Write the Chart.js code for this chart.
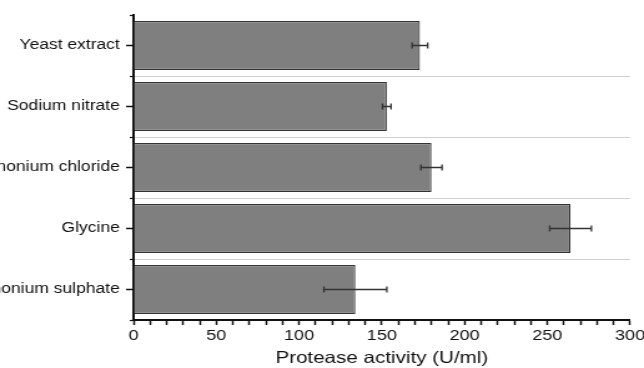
<!DOCTYPE html>
<html>
<head>
<meta charset="utf-8">
<script src="https://cdn.jsdelivr.net/npm/chart.js@4.4.1/dist/chart.umd.min.js"></script>
<style>
  html, body { margin: 0; padding: 0; background: #fff; overflow: hidden; }
  /* kanvas digambar sempit lalu direntang ke samping */
  #wrap { width: 519px; height: 368px; transform: scaleX(1.248); transform-origin: 0 0; }
</style>
</head>
<body>
<div id="wrap"><canvas id="chart"></canvas></div>
<script>
// Sumber nitrogen dan aktivitas protease (U/ml)
const sources = ["Yeast extract", "Sodium nitrate", "Ammonium chloride", "Glycine", "Ammonium sulphate"];
const activity = [173, 153, 180, 264, 134];
const activityErr = [4.7, 2.6, 6.4, 12.6, 19];
const xTicks = [0, 50, 100, 150, 200, 250, 300];

const fontFamily = "'Liberation Sans', Arial, sans-serif";
const textColor = "#111";

// Error bar horizontal (± SD)
const errorBars = {
  id: "errorBars",
  afterDatasetsDraw(chart) {
    const ctx = chart.ctx;
    const x = chart.scales.x;
    const bars = chart.getDatasetMeta(0).data;
    ctx.save();
    ctx.strokeStyle = "#333";
    ctx.lineWidth = 1.3;
    bars.forEach((bar, i) => {
      const lo = x.getPixelForValue(activity[i] - activityErr[i]);
      const hi = x.getPixelForValue(activity[i] + activityErr[i]);
      const y = bar.y;
      ctx.beginPath();
      ctx.moveTo(lo, y);
      ctx.lineTo(hi, y);
      ctx.moveTo(lo, y - 3);
      ctx.lineTo(lo, y + 3);
      ctx.moveTo(hi, y - 3);
      ctx.lineTo(hi, y + 3);
      ctx.stroke();
    });
    ctx.restore();
  }
};

new Chart(document.getElementById("chart"), {
  type: "bar",
  data: {
    labels: sources,
    datasets: [{
      data: activity,
      backgroundColor: "#7f7f7f",
      borderColor: "#333",
      borderWidth: 1.2,
      barPercentage: 0.8,
      categoryPercentage: 1
    }]
  },
  options: {
    indexAxis: "y",
    responsive: true,
    maintainAspectRatio: false,
    animation: false,
    layout: { padding: { top: 15, right: 11, left: 0, bottom: 0 } },
    plugins: { legend: { display: false }, tooltip: { enabled: false } },
    scales: {
      x: {
        type: "linear",
        min: 0,
        max: 300,
        ticks: {
          stepSize: 10,
          autoSkip: false,
          maxRotation: 0,
          padding: 2,
          color: textColor,
          font: { family: fontFamily, size: 14.5 },
          callback: v => (xTicks.includes(v) ? v : "")
        },
        grid: { drawOnChartArea: false, tickLength: 5, tickColor: "#111", tickWidth: 1.5 },
        border: { color: "#111", width: 2 },
        title: {
          display: true,
          text: "Protease activity (U/ml)",
          color: textColor,
          font: { family: fontFamily, size: 16.5 },
          padding: 0
        },
        afterFit: s => { s.height = 48; }
      },
      // label kategori + tick di tengah batang
      y: {
        type: "category",
        position: "left",
        offset: true,
        weight: 1,
        ticks: { padding: 5, color: textColor, font: { family: fontFamily, size: 14 } },
        grid: { offset: false, drawOnChartArea: false, tickLength: 6, tickColor: "#111", tickWidth: 1.5 },
        border: { color: "#111", width: 2 },
        afterFit: s => { s.width = 107; }
      },
      // garis putus-putus di antara kategori
      yGrid: {
        type: "category",
        position: "left",
        offset: true,
        weight: 0,
        ticks: { display: false },
        grid: {
          offset: true,
          color: c => (c.index > 0 ? "#cfcfcf" : "transparent"),
          borderDash: [2, 1.5],
          tickLength: 3,
          tickColor: "#111",
          tickWidth: 1.2
        },
        border: { display: false },
        afterFit: s => { s.width = 0; }
      }
    }
  },
  plugins: [errorBars]
});
</script>
</body>
</html>
